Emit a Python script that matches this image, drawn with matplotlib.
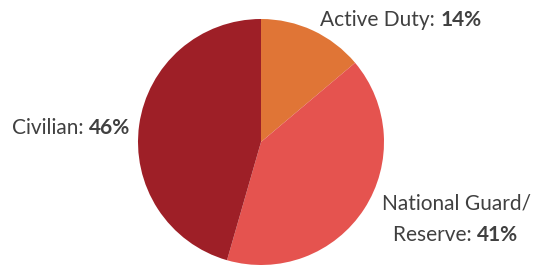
import matplotlib
matplotlib.use("Agg")
import matplotlib.pyplot as plt
from matplotlib.offsetbox import TextArea, HPacker, VPacker, AnnotationBbox

labels = ["Active Duty", "National Guard/\nReserve", "Civilian"]
shares = [14, 41, 46]
colors = ["#E07536", "#E5534F", "#9E1F27"]

plt.rcParams['font.family'] = ['Lato', 'DejaVu Sans']
txt_color = "#404040"
fsize = 15

fig = plt.figure(figsize=(5.35, 2.65), dpi=100)
ax = fig.add_axes([0, 0, 1, 1])
ax.set_xlim(0, 535)
ax.set_ylim(0, 265)
ax.axis('off')

ax.pie(shares, colors=colors, startangle=90, counterclock=False,
       center=(261, 123), radius=123, frame=True,
       wedgeprops=dict(linewidth=0))
ax.set_xlim(0, 535)
ax.set_ylim(0, 265)
ax.axis('off')


def label_box(name, pct):
    lines = name.split("\n")
    rows = []
    for i, ln in enumerate(lines):
        if i < len(lines) - 1:
            rows.append(TextArea(ln, textprops=dict(color=txt_color, fontsize=fsize)))
        else:
            rows.append(HPacker(children=[
                TextArea(ln + ": ", textprops=dict(color=txt_color, fontsize=fsize)),
                TextArea(f"{pct}%", textprops=dict(color=txt_color, fontsize=fsize, fontweight='bold')),
            ], align="baseline", pad=0, sep=0))
    return VPacker(children=rows, align="center", pad=0, sep=8)


# label centres in pixel coords (x, y from bottom)
pos = [(401, 245), (456, 46), (71, 137)]
for name, pct, p in zip(labels, shares, pos):
    ab = AnnotationBbox(label_box(name, pct), p, xycoords='data',
                        box_alignment=(0.5, 0.5), frameon=False, pad=0)
    ax.add_artist(ab)

fig.savefig("out.png", dpi=100)
